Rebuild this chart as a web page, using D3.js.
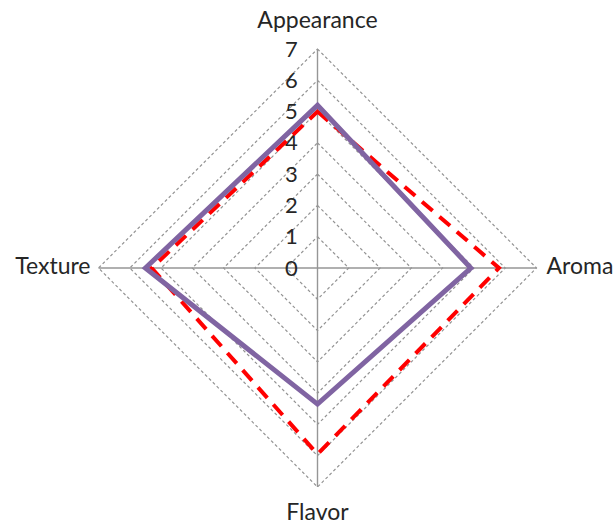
<!DOCTYPE html>
<html>
<head>
<meta charset="utf-8">
<script src="https://cdn.jsdelivr.net/npm/d3@7"></script>
<style>
  html, body { margin: 0; padding: 0; background: #fff; }
  svg { display: block; }
  text { font-family: Lato, "Open Sans", sans-serif; fill: #262626; }
</style>
</head>
<body>
<svg id="chart" width="615" height="526"></svg>
<script>
// Sensory attributes, clockwise from the top
const categories = ["Appearance", "Aroma", "Flavor", "Texture"];
// Two samples scored on a 0–7 scale
const seriesA = [5.0, 5.8, 5.95, 5.3];   // red dashed
const seriesB = [5.2, 4.9, 4.35, 5.5];   // purple solid
const tickLabels = [0, 1, 2, 3, 4, 5, 6, 7];

const svg = d3.select("#chart");
const cx = 317.5, cy = 268, R = 219;

const r = d3.scaleLinear().domain([0, 7]).range([0, R]);
const angle = d3.scalePoint().domain(categories).range([0, 2 * Math.PI * 3 / 4]);

const pt = (cat, v) => {
  const a = angle(cat);
  return [cx + r(v) * Math.sin(a), cy - r(v) * Math.cos(a)];
};

// Concentric dashed grid rings
const g = svg.append("g");
tickLabels.filter(t => t > 0).forEach(t => {
  g.append("path")
    .attr("d", d3.line()(categories.map(c => pt(c, t))) + "Z")
    .attr("fill", "none")
    .attr("stroke", "#939393")
    .attr("stroke-width", 1.2)
    .attr("stroke-dasharray", "3,2.5");
});

// Spokes
categories.forEach(c => {
  const [x, y] = pt(c, 7);
  g.append("line")
    .attr("x1", cx).attr("y1", cy).attr("x2", x).attr("y2", y)
    .attr("stroke", "#969696").attr("stroke-width", 1.4);
});

// Radial tick labels along the top spoke
g.selectAll("text.tick")
  .data(tickLabels)
  .enter().append("text")
  .attr("class", "tick")
  .attr("x", cx - 26)
  .attr("y", d => cy - r(d) + 2)
  .attr("text-anchor", "middle")
  .attr("dominant-baseline", "middle")
  .attr("font-size", 22)
  .text(d => d);

// Series polygons
const drawSeries = (vals, color, width, dash) => {
  svg.append("path")
    .attr("d", d3.line()(categories.map((c, i) => pt(c, vals[i]))) + "Z")
    .attr("fill", "none")
    .attr("stroke", color)
    .attr("stroke-width", width)
    .attr("stroke-linejoin", "miter")
    .attr("stroke-dasharray", dash);
};
drawSeries(seriesA, "#ff0000", 4, "14,9");
drawSeries(seriesB, "#8064a2", 5, null);

// Category labels
const labelPos = {
  Appearance: { x: cx, y: 22, anchor: "middle" },
  Aroma: { x: cx + R + 10, y: cy, anchor: "start" },
  Flavor: { x: cx, y: 514, anchor: "middle" },
  Texture: { x: cx - R - 8, y: cy, anchor: "end" }
};
categories.forEach(c => {
  const p = labelPos[c];
  svg.append("text")
    .attr("x", p.x).attr("y", p.y)
    .attr("text-anchor", p.anchor)
    .attr("dominant-baseline", "middle")
    .attr("font-size", 23)
    .text(c);
});
</script>
</body>
</html>
